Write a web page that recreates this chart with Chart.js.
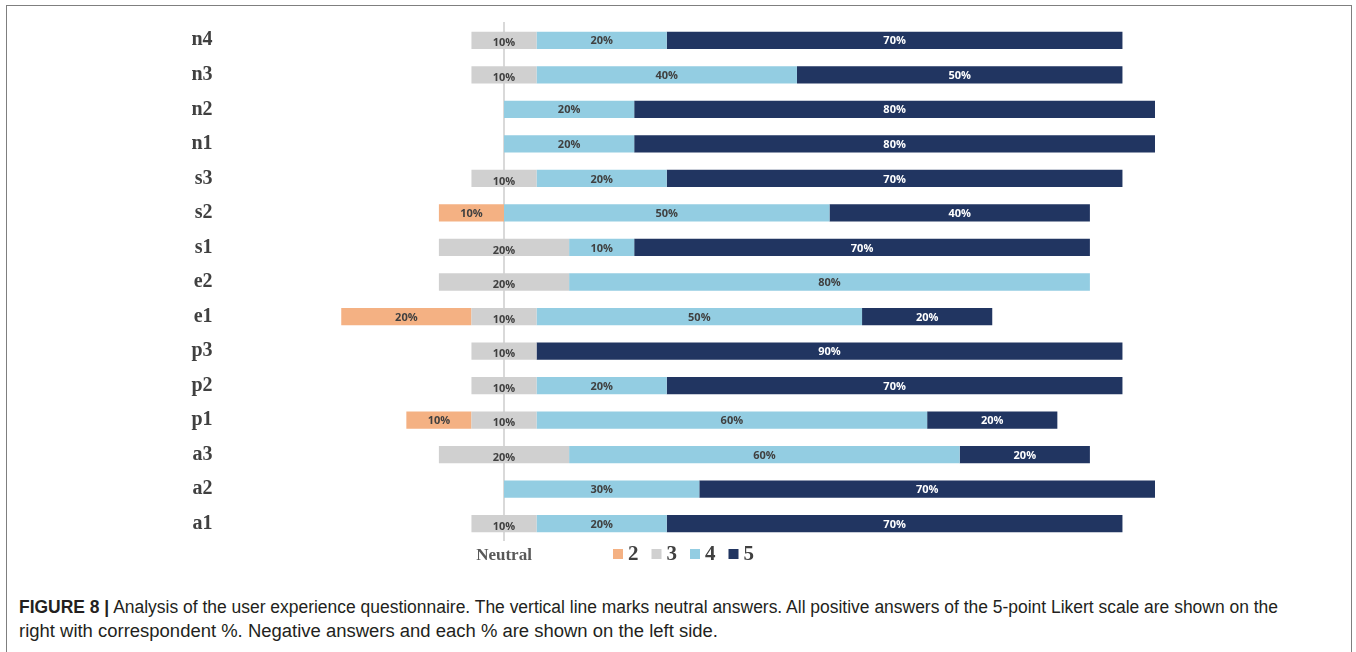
<!DOCTYPE html>
<html>
<head>
<meta charset="utf-8">
<script src="https://cdn.jsdelivr.net/npm/chart.js@4"></script>
<style>
  html, body { margin: 0; padding: 0; background: #fff; }
  body { width: 1356px; height: 652px; overflow: hidden; position: relative; }
  #frame {
    position: absolute; left: 6px; top: 5px; width: 1346px; height: 700px;
    border: 1.5px solid #7f7f7f; box-sizing: border-box;
  }
  #wrap { position: absolute; left: 0; top: 0; width: 1356px; height: 572px; }
  .cap {
    position: absolute; left: 19px;
    font-family: "Liberation Sans", Arial, sans-serif;
    font-size: 18px; line-height: 22px; color: #231f20; white-space: nowrap;
    transform-origin: 0 0;
  }
  .cap b { font-weight: bold; }
</style>
</head>
<body>
<div id="frame"></div>
<div id="wrap"><canvas id="chart"></canvas></div>
<div class="cap" id="cap1" data-w="1259" style="top:596px"><b>FIGURE 8 |</b> Analysis of the user experience questionnaire. The vertical line marks neutral answers. All positive answers of the 5-point Likert scale are shown on the</div>
<div class="cap" id="cap2" data-w="699" style="top:620px">right with correspondent %. Negative answers and each % are shown on the left side.</div>
<script>
const items = ['n4', 'n3', 'n2', 'n1', 's3', 's2', 's1', 'e2', 'e1', 'p3', 'p2', 'p1', 'a3', 'a2', 'a1'];
// % of answers per Likert level (1 never given)
const level2 = [0, 0, 0, 0, 0, 10, 0, 0, 20, 0, 0, 10, 0, 0, 0];
const level3 = [10, 10, 0, 0, 10, 0, 20, 20, 10, 10, 10, 10, 20, 0, 10];
const level4 = [20, 40, 20, 20, 20, 50, 10, 80, 50, 0, 20, 60, 60, 30, 20];
const level5 = [70, 50, 80, 80, 70, 40, 70, 0, 20, 90, 70, 20, 20, 70, 70];
const legendNames = ['2', '3', '4', '5'];

const colors = { l2: '#f4b183', l3: '#d0d0d0', l4: '#93cde2', l5: '#213561' };

// neutral answers are split half left / half right of the line
const datasets = [
  { label: '3', data: level3.map(v => -v / 2), raw: level3, backgroundColor: colors.l3, center: true },
  { label: '2', data: level2.map(v => -v), raw: level2, backgroundColor: colors.l2 },
  { label: '3b', data: level3.map(v => v / 2), raw: level3, backgroundColor: colors.l3, skipLabel: true },
  { label: '4', data: level4, raw: level4, backgroundColor: colors.l4 },
  { label: '5', data: level5, raw: level5, backgroundColor: colors.l5, light: true }
];

const extras = {
  id: 'extras',
  beforeDatasetsDraw(chart) {
    const { ctx, chartArea } = chart;
    const x0 = chart.scales.x.getPixelForValue(0);
    ctx.save();
    ctx.strokeStyle = '#d9d9d9';
    ctx.lineWidth = 2;
    ctx.beginPath();
    ctx.moveTo(x0, chartArea.top - 1);
    ctx.lineTo(x0, chartArea.bottom);
    ctx.stroke();
    ctx.restore();
  },
  afterDatasetsDraw(chart) {
    const { ctx, chartArea } = chart;
    const xs = chart.scales.x;
    ctx.save();
    ctx.font = 'bold 11px "Open Sans", sans-serif';
    ctx.textAlign = 'center';
    ctx.textBaseline = 'middle';
    chart.data.datasets.forEach((ds, di) => {
      if (ds.skipLabel) return;
      const meta = chart.getDatasetMeta(di);
      meta.data.forEach((bar, i) => {
        const v = ds.raw[i];
        if (!v) return;
        let x = (bar.x + bar.base) / 2;
        let y = bar.y;
        if (ds.center) { x = xs.getPixelForValue(0); y += 2; }
        ctx.fillStyle = ds.light ? '#ffffff' : '#404040';
        ctx.fillText(v + '%', x, y + 1);
      });
    });

    // Neutral caption under the line
    const x0 = xs.getPixelForValue(0);
    const base = chartArea.bottom + 19;
    ctx.font = 'bold 17px "Liberation Serif", serif';
    ctx.fillStyle = '#595959';
    ctx.textBaseline = 'alphabetic';
    ctx.fillText('Neutral', x0, base);

    // legend
    const keys = ['l2', 'l3', 'l4', 'l5'];
    ctx.font = 'bold 21px "Liberation Serif", serif';
    ctx.textAlign = 'left';
    let lx = 613;
    keys.forEach((k, i) => {
      ctx.fillStyle = colors[k];
      ctx.fillRect(lx, base - 11, 10, 10);
      lx += 15;
      ctx.fillStyle = '#404040';
      ctx.fillText(legendNames[i], lx, base);
      lx += ctx.measureText(legendNames[i]).width + 13;
    });
    ctx.restore();
  }
};

new Chart(document.getElementById('chart'), {
  type: 'bar',
  data: { labels: items, datasets },
  options: {
    indexAxis: 'y',
    responsive: true,
    maintainAspectRatio: false,
    animation: false,
    layout: { padding: { top: 23, bottom: 31, left: 0, right: 201 } },
    datasets: { bar: { categoryPercentage: 1, barPercentage: 0.5 } },
    plugins: { legend: { display: false }, tooltip: { enabled: false } },
    scales: {
      x: { stacked: true, display: false, min: -40, max: 100 },
      y: {
        stacked: true,
        // tick marks are not drawn, their length only pushes the labels left
        grid: { display: false, drawTicks: true, tickLength: 31 },
        border: { display: false },
        ticks: {
          padding: 0,
          color: '#404040',
          font: { family: '"Liberation Serif", serif', weight: 'bold', size: 20 }
        },
        afterFit(scale) { scale.width = 243.6; }
      }
    }
  },
  plugins: [extras]
});

// stretch caption lines to the widths they have in the printed figure
document.querySelectorAll('.cap').forEach(el => {
  const w = el.getBoundingClientRect().width;
  el.style.transform = 'scaleX(' + (parseFloat(el.dataset.w) / w) + ')';
});
</script>
</body>
</html>
